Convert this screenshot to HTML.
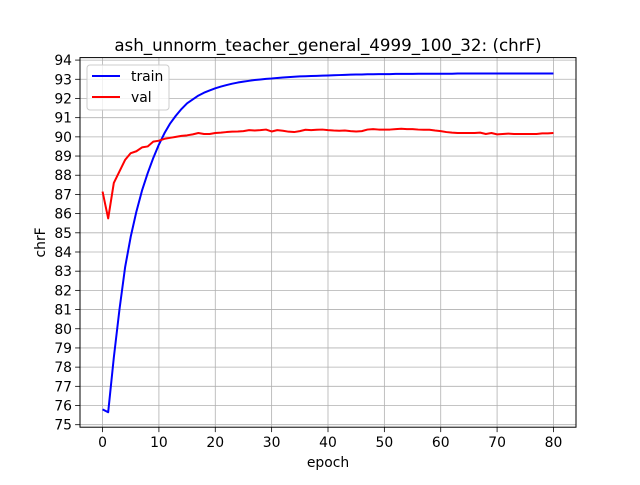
<!DOCTYPE html>
<html><head><meta charset="utf-8"><style>
body{margin:0;background:#fff}
svg text{font-family:"DejaVu Sans","Liberation Sans",sans-serif;fill:#000}
</style></head><body>
<svg id="chart" width="640" height="480" xmlns="http://www.w3.org/2000/svg"></svg>
<script>
const epochs = Array.from({length:81},(_,i)=>i);
const trainValues = [75.8,75.65,78.5,81.0,83.2,84.8,86.1,87.2,88.1,88.9,89.6,90.2,90.7,91.1,91.45,91.75,91.95,92.15,92.3,92.42,92.53,92.62,92.7,92.77,92.83,92.88,92.92,92.96,92.99,93.02,93.04,93.07,93.09,93.11,93.13,93.15,93.16,93.17,93.18,93.19,93.2,93.21,93.22,93.23,93.24,93.25,93.25,93.26,93.26,93.27,93.27,93.27,93.28,93.28,93.28,93.28,93.29,93.29,93.29,93.29,93.29,93.29,93.29,93.3,93.3,93.3,93.3,93.3,93.3,93.3,93.3,93.3,93.3,93.3,93.3,93.3,93.3,93.3,93.3,93.3,93.3];
const valValues = [87.15,85.75,87.6,88.2,88.8,89.15,89.25,89.45,89.5,89.75,89.8,89.9,89.95,90.0,90.05,90.08,90.13,90.2,90.15,90.15,90.2,90.22,90.25,90.27,90.28,90.3,90.35,90.33,90.35,90.38,90.28,90.35,90.32,90.27,90.25,90.3,90.37,90.35,90.37,90.38,90.35,90.33,90.32,90.33,90.3,90.28,90.3,90.38,90.4,90.38,90.38,90.38,90.4,90.42,90.4,90.4,90.38,90.37,90.37,90.33,90.3,90.25,90.22,90.2,90.2,90.2,90.2,90.22,90.15,90.2,90.13,90.15,90.17,90.15,90.15,90.15,90.15,90.15,90.18,90.18,90.2];
const xTicks=[0,10,20,30,40,50,60,70,80];
const yTicks=[75,76,77,78,79,80,81,82,83,84,85,86,87,88,89,90,91,92,93,94];
const L=80,R=576,T=57.6,B=427.2;
const xMin=-4,xMax=84,yMin=74.87,yMax=94.13;
const sx=v=>L+(v-xMin)/(xMax-xMin)*(R-L);
const sy=v=>B-(v-yMin)/(yMax-yMin)*(B-T);
const svg=document.getElementById('chart');
const NS='http://www.w3.org/2000/svg';
function mk(tag,attrs,parent){const e=document.createElementNS(NS,tag);for(const k in attrs)e.setAttribute(k,attrs[k]);(parent||svg).appendChild(e);return e;}
const FS=13.9;
xTicks.forEach(t=>{
  const g=mk('line',{x1:sx(t),x2:sx(t),y1:T,y2:B,stroke:'#b0b0b0','stroke-width':0.8});
  
  
  mk('line',{x1:sx(t),x2:sx(t),y1:B,y2:B+4.9,stroke:'#000','stroke-width':0.8});
  const tx=mk('text',{x:sx(t),y:B+20,'font-size':FS,'text-anchor':'middle'});
  tx.textContent=t;
  
  
});
yTicks.forEach(t=>{
  const g=mk('line',{x1:L,x2:R,y1:sy(t),y2:sy(t),stroke:'#b0b0b0','stroke-width':0.8});
  
  
  mk('line',{x1:L-4.9,x2:L,y1:sy(t),y2:sy(t),stroke:'#000','stroke-width':0.8});
  const tx=mk('text',{x:L-8,y:sy(t)+5,'font-size':FS,'text-anchor':'end'});
  tx.textContent=t;
  
  
});
function series(vals,color,name){
  const p=mk('polyline',{points:vals.map((v,i)=>sx(epochs[i])+','+sy(v)).join(' '),fill:'none',stroke:color,'stroke-width':2,'stroke-linejoin':'round'});
  
  
}
series(trainValues,'#0000ff','train-line');
series(valValues,'#ff0000','val-line');
const fr=mk('rect',{x:L,y:T,width:R-L,height:B-T,fill:'none',stroke:'#000','stroke-width':1});


const title=mk('text',{x:(L+R)/2,y:51,'font-size':16.7,'text-anchor':'middle'});
title.textContent='ash_unnorm_teacher_general_4999_100_32: (chrF)';


const xl=mk('text',{x:(L+R)/2,y:467,'font-size':FS,'text-anchor':'middle'});
xl.textContent='epoch';


const yl=mk('text',{x:0,y:0,'font-size':FS,'text-anchor':'middle',transform:'translate(45,'+((T+B)/2)+') rotate(-90)'});
yl.textContent='chrF';


const lg=mk('g',{});


mk('rect',{x:87,y:65,width:82,height:45,rx:3,fill:'#fff','fill-opacity':0.8,stroke:'#cccccc','stroke-width':1},lg);
[['train','#0000ff',76],['val','#ff0000',97]].forEach(([n,c,y])=>{
  mk('line',{x1:92,x2:120,y1:y,y2:y,stroke:c,'stroke-width':2},lg);
  const t=mk('text',{x:131,y:y+5,'font-size':FS},lg);
  t.textContent=n;
  
  
});
</script>
</body></html>
